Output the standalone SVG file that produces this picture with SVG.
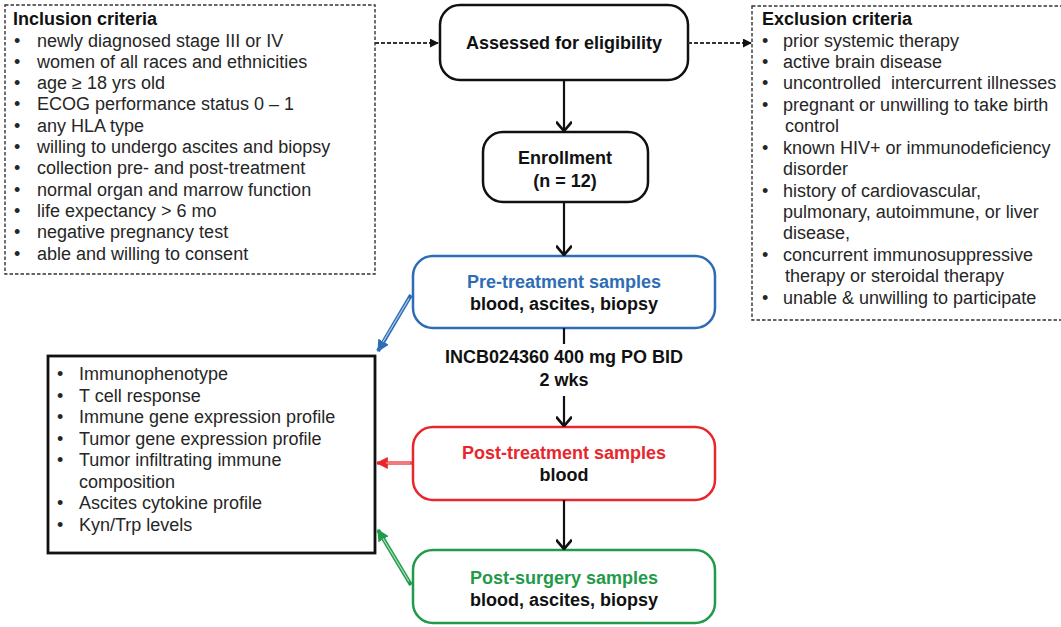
<svg xmlns="http://www.w3.org/2000/svg" width="1061" height="627" viewBox="0 0 1061 627">
<defs>
<style>
text{font-family:"Liberation Sans",Arial,sans-serif;font-size:18px;fill:#262626}
.b{font-weight:bold;fill:#111}
.c{text-anchor:middle}
.dash{fill:#fff;stroke:#333;stroke-width:1.4;stroke-dasharray:3.5,2}
.node{fill:#fff;stroke-width:2.5}
.flow{stroke:#111;stroke-width:2.2;fill:none}
</style>
<marker id="ah" viewBox="0 0 10 10" refX="9" refY="5" markerWidth="9" markerHeight="9" markerUnits="userSpaceOnUse" orient="auto"><path d="M0,0L10,5L0,10z" fill="#111"/></marker>
<marker id="av" viewBox="0 0 12 12" refX="11" refY="6" markerWidth="16" markerHeight="16" markerUnits="userSpaceOnUse" orient="auto"><path d="M4,0L11,6L4,12" fill="none" stroke="#111" stroke-width="2"/></marker>
<marker id="ab" viewBox="0 0 10 10" refX="9" refY="5" markerWidth="12" markerHeight="12" markerUnits="userSpaceOnUse" orient="auto"><path d="M0,0L10,5L0,10z" fill="#2e6db5"/></marker>
<marker id="ar" viewBox="0 0 10 10" refX="9" refY="5" markerWidth="12" markerHeight="12" markerUnits="userSpaceOnUse" orient="auto"><path d="M0,0L10,5L0,10z" fill="#e8262b"/></marker>
<marker id="ag" viewBox="0 0 10 10" refX="9" refY="5" markerWidth="12" markerHeight="12" markerUnits="userSpaceOnUse" orient="auto"><path d="M0,0L10,5L0,10z" fill="#1f9b4a"/></marker>
</defs>
<rect width="1061" height="627" fill="#fff"/>

<g id="inclusion">
<rect class="dash" x="5" y="5" width="370" height="269"/>
<text class="b" x="13" y="25">Inclusion criteria</text>
<g>
<text x="14" y="47">•</text><text x="37" y="47">newly diagnosed stage III or IV</text>
<text x="14" y="68">•</text><text x="37" y="68">women of all races and ethnicities</text>
<text x="14" y="89">•</text><text x="37" y="89">age ≥ 18 yrs old</text>
<text x="14" y="110">•</text><text x="37" y="110">ECOG performance status 0 – 1</text>
<text x="14" y="132">•</text><text x="37" y="132">any HLA type</text>
<text x="14" y="153">•</text><text x="37" y="153">willing to undergo ascites and biopsy</text>
<text x="14" y="174">•</text><text x="37" y="174">collection pre- and post-treatment</text>
<text x="14" y="196">•</text><text x="37" y="196">normal organ and marrow function</text>
<text x="14" y="217">•</text><text x="37" y="217">life expectancy &gt; 6 mo</text>
<text x="14" y="238">•</text><text x="37" y="238">negative pregnancy test</text>
<text x="14" y="260">•</text><text x="37" y="260">able and willing to consent</text>
</g>
</g>

<g id="exclusion">
<rect class="dash" x="752" y="6" width="320" height="314"/>
<text class="b" x="762" y="25">Exclusion criteria</text>
<text x="762" y="47">•</text><text x="783" y="47">prior systemic therapy</text>
<text x="762" y="68">•</text><text x="783" y="68">active brain disease</text>
<text x="762" y="89">•</text><text x="783" y="89" xml:space="preserve">uncontrolled  intercurrent illnesses</text>
<text x="762" y="111">•</text><text x="783" y="111">pregnant or unwilling to take birth</text>
<text x="785" y="132">control</text>
<text x="762" y="154">•</text><text x="783" y="154">known HIV+ or immunodeficiency</text>
<text x="783" y="175">disorder</text>
<text x="762" y="197">•</text><text x="783" y="197">history of cardiovascular,</text>
<text x="783" y="218">pulmonary, autoimmune, or liver</text>
<text x="783" y="239">disease,</text>
<text x="762" y="261">•</text><text x="783" y="261">concurrent immunosuppressive</text>
<text x="785" y="282">therapy or steroidal therapy</text>
<text x="762" y="304">•</text><text x="783" y="304">unable &amp; unwilling to participate</text>
</g>

<g id="assessed">
<rect class="node" x="440" y="5" width="248" height="75" rx="20" stroke="#111"/>
<text class="b c" x="564" y="49">Assessed for eligibility</text>
</g>

<g id="enrollment">
<rect class="node" x="483" y="132" width="165" height="70" rx="20" stroke="#111"/>
<text class="b c" x="565" y="164">Enrollment</text>
<text class="b c" x="565" y="187">(n = 12)</text>
</g>

<g id="pretreatment">
<rect class="node" x="413" y="256" width="302" height="72" rx="20" stroke="#2e6db5"/>
<text class="b c" x="564" y="288" style="fill:#2e6db5">Pre-treatment samples</text>
<text class="b c" x="564" y="310">blood, ascites, biopsy</text>
</g>

<g id="posttreatment">
<rect class="node" x="413" y="427" width="302" height="73" rx="20" stroke="#e8262b"/>
<text class="b c" x="564" y="459" style="fill:#e8262b">Post-treatment samples</text>
<text class="b c" x="564" y="481">blood</text>
</g>

<g id="postsurgery">
<rect class="node" x="413" y="550" width="302" height="73" rx="20" stroke="#1f9b4a"/>
<text class="b c" x="564" y="584" style="fill:#1f9b4a">Post-surgery samples</text>
<text class="b c" x="564" y="606">blood, ascites, biopsy</text>
</g>

<g id="analyses">
<rect x="48" y="356" width="327" height="197" fill="#fff" stroke="#111" stroke-width="2.8"/>
<text x="57" y="380">•</text><text x="79" y="380">Immunophenotype</text>
<text x="57" y="402">•</text><text x="79" y="402">T cell response</text>
<text x="57" y="423">•</text><text x="79" y="423">Immune gene expression profile</text>
<text x="57" y="445">•</text><text x="79" y="445">Tumor gene expression profile</text>
<text x="57" y="466">•</text><text x="79" y="466">Tumor infiltrating immune</text>
<text x="79" y="488">composition</text>
<text x="57" y="509">•</text><text x="79" y="509">Ascites cytokine profile</text>
<text x="57" y="531">•</text><text x="79" y="531">Kyn/Trp levels</text>
</g>

<g id="dose-label">
<text class="b c" x="564" y="363">INCB024360 400 mg PO BID</text>
<text class="b c" x="564" y="386">2 wks</text>
</g>

<g id="connectors">
<line x1="375" y1="43" x2="438" y2="43" stroke="#333" stroke-width="1.8" stroke-dasharray="4,2" marker-end="url(#ah)"/>
<line x1="688" y1="43" x2="751" y2="43" stroke="#333" stroke-width="1.8" stroke-dasharray="4,2" marker-end="url(#ah)"/>
<line class="flow" x1="564" y1="80" x2="564" y2="131" marker-end="url(#av)"/>
<line class="flow" x1="564" y1="202" x2="564" y2="255" marker-end="url(#av)"/>
<line class="flow" x1="564" y1="328" x2="564" y2="344"/>
<line class="flow" x1="564" y1="396" x2="564" y2="426" marker-end="url(#av)"/>
<line class="flow" x1="564" y1="500" x2="564" y2="549" marker-end="url(#av)"/>
<line x1="411" y1="295" x2="378" y2="351" stroke="#2e6db5" stroke-width="4" marker-end="url(#ab)"/>
<line x1="409" y1="298.5" x2="383" y2="342" stroke="#a9c8ec" stroke-width="1.3"/>
<line x1="412" y1="463" x2="377" y2="463" stroke="#ee4a4e" stroke-width="3.5" marker-end="url(#ar)"/>
<line x1="410" y1="463" x2="386" y2="463" stroke="#f7a5a7" stroke-width="1.1"/>
<line x1="411" y1="585" x2="378" y2="530" stroke="#1f9b4a" stroke-width="4" marker-end="url(#ag)"/>
<line x1="409" y1="581.5" x2="383" y2="538.5" stroke="#a7dcb8" stroke-width="1.3"/>
</g>
</svg>
